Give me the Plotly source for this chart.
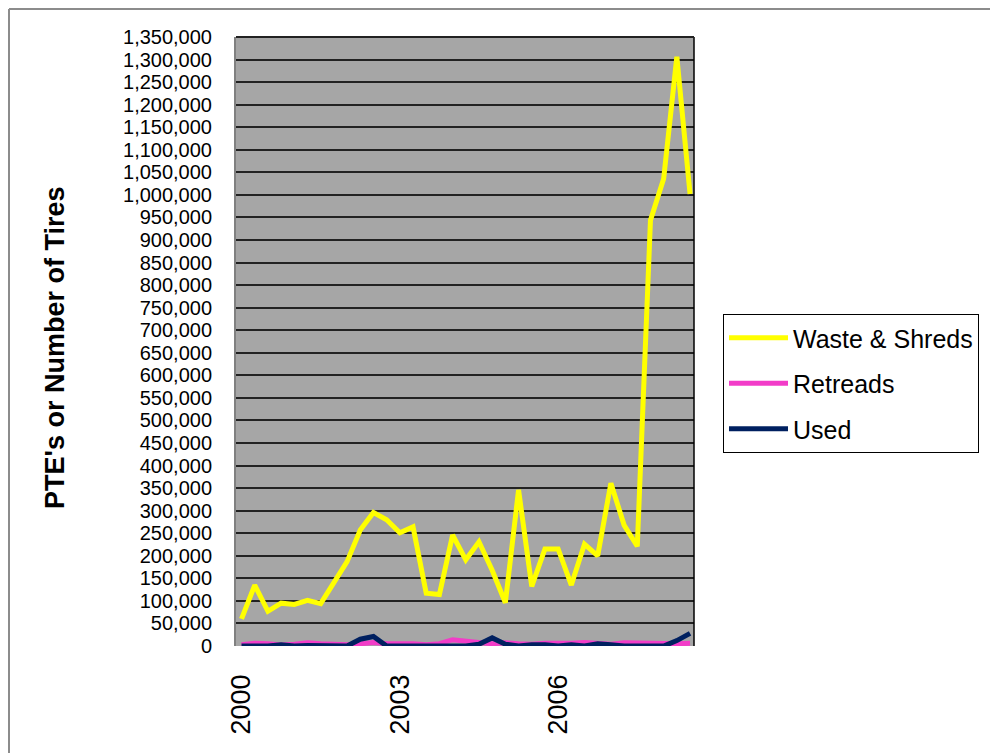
import plotly.graph_objects as go

QUARTERS = [
    "2000 Q1", "2000 Q2", "2000 Q3", "2000 Q4",
    "2001 Q1", "2001 Q2", "2001 Q3", "2001 Q4",
    "2002 Q1", "2002 Q2", "2002 Q3", "2002 Q4",
    "2003 Q1", "2003 Q2", "2003 Q3", "2003 Q4",
    "2004 Q1", "2004 Q2", "2004 Q3", "2004 Q4",
    "2005 Q1", "2005 Q2", "2005 Q3", "2005 Q4",
    "2006 Q1", "2006 Q2", "2006 Q3", "2006 Q4",
    "2007 Q1", "2007 Q2", "2007 Q3", "2007 Q4",
    "2008 Q1", "2008 Q2", "2008 Q3",
]

WASTE_SHREDS = [
    60000, 135000, 77000, 95000, 92000, 101000, 94000, 143000,
    187000, 257000, 296000, 280000, 251000, 264000, 117000, 114000,
    246000, 191000, 231000, 168000, 96000, 346000, 132000, 215000,
    215000, 135000, 226000, 200000, 361000, 268000, 221000, 944000,
    1036000, 1306000, 1002000,
]

RETREADS = [
    3000, 6000, 5000, 2000, 4000, 7000, 5000, 4000,
    3000, 5000, 8000, 5000, 6000, 5000, 3000, 5000,
    14000, 10000, 8000, 5000, 7000, 5000, 4000, 6000,
    5000, 6000, 8000, 6000, 4000, 7000, 6000, 6000,
    4000, 5000, 6000,
]

USED = [
    0, 0, 0, 3000, 0, 1000, 0, 0,
    0, 15000, 21000, 0, 0, 0, 0, 0,
    0, 0, 4000, 18000, 4000, 0, 3000, 3000,
    0, 3000, 0, 5000, 3000, 0, 0, 0,
    0, 12000, 28000,
]

SERIES_NAMES = ["Waste & Shreds", "Retreads", "Used"]
SERIES_COLORS = ["#FFFF00", "#F23CC8", "#002060"]

TICK_VALS = ["2000 Q1", "2003 Q1", "2006 Q1"]
TICK_TEXT = ["2000", "2003", "2006"]
Y_TICKS = list(range(0, 1350001, 50000))
Y_TICK_TEXT = [f"{v:,}" for v in Y_TICKS]

FONT = "Liberation Sans, Arial, sans-serif"

fig = go.Figure()
for name, vals, col in zip(SERIES_NAMES, [WASTE_SHREDS, RETREADS, USED], SERIES_COLORS):
    fig.add_trace(go.Scatter(
        x=QUARTERS, y=vals, mode="lines", name=name,
        line=dict(color=col, width=5), legendgroup=name,
    ))

# the page adds an 8px body margin, so figure pixel = screen pixel - 8
OFF = 8
W, H = 998, 753
L, T = 236 - OFF, 37 - OFF
PW, PH = 458, 609
R = W - L - PW
B = H - T - PH

def px_x(p):
    return (p - OFF - L) / PW

def px_y(p):
    return (T + PH - (p - OFF)) / PH

fig.update_layout(
    width=W, height=H,
    margin=dict(l=L, r=R, t=T, b=B, pad=0),
    paper_bgcolor="white",
    plot_bgcolor="#A6A6A6",
    font=dict(family=FONT, color="black"),
    showlegend=True,
    legend=dict(
        x=px_x(723), y=px_y(314), xanchor="left", yanchor="top",
        bgcolor="white", bordercolor="black", borderwidth=1,
        font=dict(size=25, family=FONT, color="black"),
        traceorder="grouped", tracegroupgap=10,
        itemwidth=59,
    ),
    xaxis=dict(
        type="category", range=[-0.42, 34.3],
        tickmode="array", tickvals=TICK_VALS, ticktext=TICK_TEXT,
        tickangle=-90, tickfont=dict(size=27, family=FONT),
        showgrid=False, zeroline=False, showline=False,
        ticks="", ticklabelstandoff=22,
    ),
    yaxis=dict(
        range=[0, 1350000],
        tickmode="array", tickvals=Y_TICKS, ticktext=Y_TICK_TEXT,
        tickfont=dict(size=20, family=FONT),
        showgrid=True, gridcolor="#222222", gridwidth=1.6,
        zeroline=False, showline=True, linecolor="#808080", linewidth=2,
        ticks="", ticklabelstandoff=18,
    ),
    annotations=[dict(
        text="<b>PTE's or Number of Tires</b>",
        x=px_x(55), y=px_y(348), xref="paper", yref="paper",
        xanchor="center", yanchor="middle", textangle=-90,
        showarrow=False, font=dict(size=27, family=FONT, color="black"),
    )],
    shapes=[
        dict(type="line", xref="paper", yref="paper", x0=1, x1=1, y0=0, y1=1,
             line=dict(color="black", width=1.5)),
        dict(type="line", xref="paper", yref="paper", x0=0, x1=1, y0=1, y1=1,
             line=dict(color="#222222", width=2)),
        dict(type="line", xref="paper", yref="paper",
             x0=px_x(9), x1=px_x(9), y0=px_y(760), y1=px_y(9),
             line=dict(color="#8c8c8c", width=2)),
        dict(type="line", xref="paper", yref="paper",
             x0=px_x(9), x1=px_x(1010), y0=px_y(9), y1=px_y(9),
             line=dict(color="#8c8c8c", width=2)),
    ],
)

fig.write_html("out.html")
